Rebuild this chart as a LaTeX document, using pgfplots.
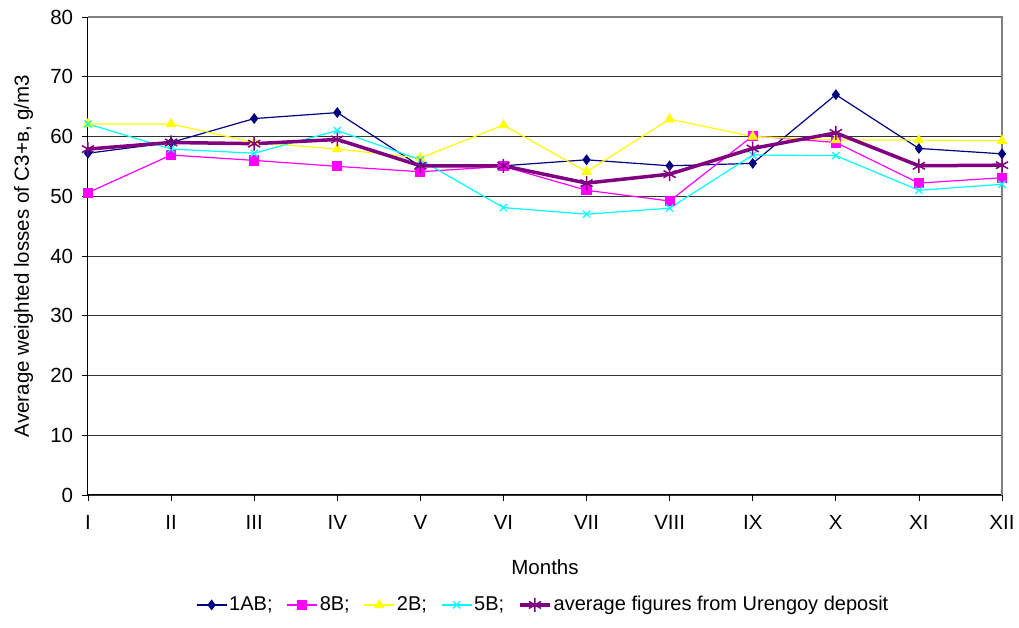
\documentclass[border=0pt]{standalone}
\usepackage{pgfplots}
\pgfplotsset{compat=1.18}
\usepackage{fontspec}
\setmainfont{Liberation Sans}
\definecolor{cnavy}{HTML}{000080}
\definecolor{cmag}{HTML}{FF00FF}
\definecolor{cyel}{HTML}{FFFF00}
\definecolor{ccyan}{HTML}{00FFFF}
\definecolor{cpurp}{HTML}{800080}
\begin{document}
\fontsize{20}{24}\selectfont
\begin{tikzpicture}
\begin{axis}[
  scale only axis,
  width=914pt, height=478pt,
  xmin=0, xmax=11, ymin=0, ymax=80,
  xtick={0,...,11},
  xticklabels={I,II,III,IV,V,VI,VII,VIII,IX,X,XI,XII},
  ytick={0,10,...,80},
  ymajorgrids,
  grid style={black!80, line width=0.8pt},
  axis line style={line width=1pt},
  separate axis lines,
  x axis line style={black},
  y axis line style={black},
  axis x line*=bottom,
  axis y line*=left,
  tick align=outside,
  major tick length=6pt,
  tick style={black, line width=0.8pt},
  xtick pos=bottom, ytick pos=left,
  /pgf/number format/assume math mode=true,
  tick label style={font=\fontsize{20.5}{24}\selectfont},
  xticklabel style={yshift=-8pt},
  yticklabel style={xshift=-2pt},
  xlabel={Months},
  xlabel style={font=\fontsize{20.5}{24}\selectfont, at={(axis description cs:0.5,0)}, anchor=north, yshift=-58pt},
  ylabel={Average weighted losses of C3+в, g/m3},
  ylabel style={font=\fontsize{20.5}{24}\selectfont, at={(axis description cs:0,0.5)}, anchor=south, yshift=48pt},
  legend style={at={(axis description cs:0.498,-0.23)}, anchor=center, draw=none, fill=none,
    font=\fontsize{20}{24}\selectfont, /tikz/every even column/.append style={column sep=12pt},
    /tikz/every odd column/.append style={column sep=0pt}},
  legend columns=5,
  legend image code/.code={
    \draw[mark repeat=2,mark phase=2,#1] plot coordinates {(0pt,0pt) (15pt,0pt) (30pt,0pt)};},
  clip=false,
]
\addplot[cnavy, line width=1.2pt, mark=diamond*, mark size=4.5pt, mark options={solid, fill=cnavy, draw=cnavy}]
 coordinates {(0,57.2) (1,59) (2,63) (3,64) (4,55) (5,55.1) (6,56.1) (7,55.1) (8,55.5) (9,67) (10,58) (11,57.1)};
\addlegendentry{1AB;}
\addplot[cmag, line width=1.2pt, mark=square*, mark size=4.5pt, mark options={solid, fill=cmag, draw=cmag}]
 coordinates {(0,50.6) (1,56.9) (2,56) (3,55) (4,54.1) (5,55) (6,51) (7,49.2) (8,60.1) (9,59) (10,52.2) (11,53.1)};
\addlegendentry{8B;}
\addplot[cyel, line width=1.2pt, mark=triangle*, mark size=5pt, mark options={solid, fill=cyel, draw=cyel}]
 coordinates {(0,62.1) (1,62.1) (2,59) (3,57.9) (4,56.4) (5,61.9) (6,54.1) (7,62.9) (8,60) (9,59.4) (10,59.4) (11,59.3)};
\addlegendentry{2B;}
\addplot[ccyan, line width=1.2pt, mark=x, mark size=5pt, mark options={solid, draw=ccyan, line width=1.2pt}]
 coordinates {(0,62.1) (1,57.9) (2,57.2) (3,61) (4,56.1) (5,48.1) (6,47) (7,48) (8,56.9) (9,56.8) (10,51) (11,52)};
\addlegendentry{5B;}
\addplot[cpurp, line width=3.5pt, mark=asterisk, mark size=7pt, mark options={solid, draw=cpurp, line width=1.5pt}]
 coordinates {(0,57.9) (1,59) (2,58.8) (3,59.5) (4,55.1) (5,55.1) (6,52.2) (7,53.7) (8,58) (9,60.6) (10,55.1) (11,55.2)};
\addlegendentry{average figures from Urengoy deposit}
\draw[gray, line width=1.2pt] (rel axis cs:0,1) -- (rel axis cs:1,1) -- (rel axis cs:1,0);
\end{axis}
\pgfresetboundingbox
\useasboundingbox (-88pt,-133pt) rectangle (931pt,495pt);
\end{tikzpicture}
\end{document}
